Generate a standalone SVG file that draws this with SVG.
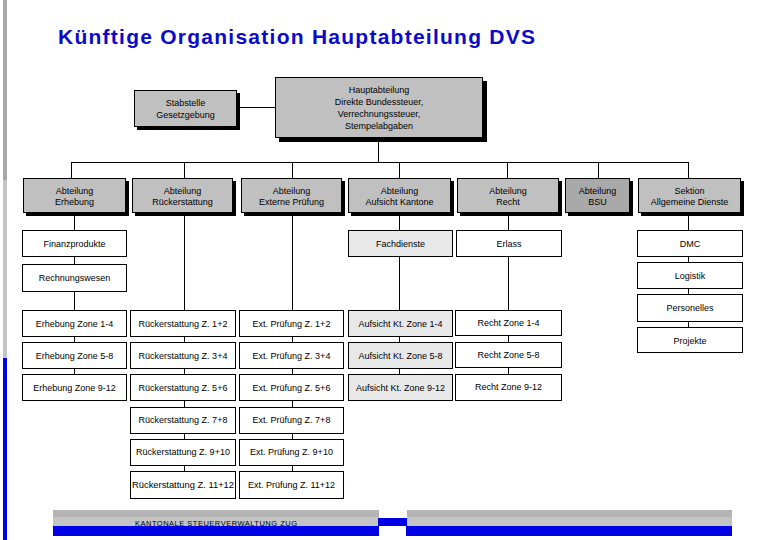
<svg xmlns="http://www.w3.org/2000/svg" width="766" height="540" viewBox="0 0 766 540">
<style>
text{font-family:"Liberation Sans",Arial,sans-serif;font-size:9px;fill:#000;text-anchor:middle}
.title{font-size:21px;font-weight:bold;fill:#0a0ac8;text-anchor:start}
.foot{font-size:7.5px;text-anchor:start}
.g{fill:#c0c0c0;stroke:#000;stroke-width:1}
.d{fill:#a9a9a9;stroke:#000;stroke-width:1}
.w{fill:#fff;stroke:#000;stroke-width:1}
.l{fill:#e8e8e8;stroke:#000;stroke-width:1}
.sh{fill:#000}
.c{stroke:#000;stroke-width:1;fill:none}
</style>
<rect x="0" y="0" width="766" height="540" fill="#fff"/>
<rect x="3" y="0" width="4" height="180" fill="#a8a8a8"/>
<rect x="3" y="180" width="4" height="178" fill="#c4c4c4"/>
<rect x="3" y="358" width="4" height="182" fill="#0000e6"/>
<text class="title" x="58" y="44" textLength="477" lengthAdjust="spacing">Künftige Organisation Hauptabteilung DVS</text>
<g id="connectors">
<path class="c" d="M237.5 107.5H275.5M378.5 138V162.5M71.5 162.5H688.5M71.5 162V178M184.5 162V178M292.5 162V178M399.5 162V178M507.5 162V178M598.5 162V178M688.5 162V178"/>
<path class="c" d="M74.5 214V374M184.5 214V471M292.5 214V471M399.5 214V374M508.5 214V374M688.5 214V327"/>
</g>
<g id="stabstelle"><rect class="sh" x="137" y="93" width="103" height="37"/><rect class="g" x="134.5" y="90.5" width="102" height="36"/><text x="185.5" y="106">Stabstelle</text><text x="185.5" y="118">Gesetzgebung</text></g>
<g id="haupt"><rect class="sh" x="279" y="81" width="208" height="61"/><rect class="g" x="275.5" y="77.5" width="207" height="60"/><text x="379" y="93">Hauptabteilung</text><text x="379" y="105">Direkte Bundessteuer,</text><text x="379" y="117">Verrechnungssteuer,</text><text x="379" y="129">Stempelabgaben</text></g>
<g id="abt-erhebung"><rect class="sh" x="26" y="181" width="103" height="35"/><rect class="g" x="23.5" y="178.5" width="102" height="34"/><text x="74.5" y="194">Abteilung</text><text x="74.5" y="205">Erhebung</text></g>
<g id="abt-rueck"><rect class="sh" x="135" y="181" width="101" height="35"/><rect class="g" x="132.5" y="178.5" width="100" height="34"/><text x="182.5" y="194">Abteilung</text><text x="182.5" y="205">Rückerstattung</text></g>
<g id="abt-ext"><rect class="sh" x="244" y="181" width="101" height="35"/><rect class="g" x="241.5" y="178.5" width="100" height="34"/><text x="291.5" y="194">Abteilung</text><text x="291.5" y="205">Externe Prüfung</text></g>
<g id="abt-aufsicht"><rect class="sh" x="351" y="181" width="103" height="35"/><rect class="g" x="348.5" y="178.5" width="102" height="34"/><text x="399.5" y="194">Abteilung</text><text x="399.5" y="205">Aufsicht Kantone</text></g>
<g id="abt-recht"><rect class="sh" x="460" y="181" width="102" height="35"/><rect class="g" x="457.5" y="178.5" width="101" height="34"/><text x="508" y="194">Abteilung</text><text x="508" y="205">Recht</text></g>
<g id="abt-bsu"><rect class="sh" x="568" y="181" width="65" height="35"/><rect class="d" x="565.5" y="178.5" width="64" height="34"/><text x="597.5" y="194">Abteilung</text><text x="597.5" y="205">BSU</text></g>
<g id="sektion"><rect class="sh" x="641" y="181" width="103" height="35"/><rect class="g" x="638.5" y="178.5" width="102" height="34"/><text x="689.5" y="194">Sektion</text><text x="689.5" y="205">Allgemeine Dienste</text></g>
<g id="finanz"><rect class="w" x="22.5" y="230.5" width="104" height="26"/><text x="74.5" y="247">Finanzprodukte</text></g>
<g id="rechnung"><rect class="w" x="22.5" y="264.5" width="104" height="27"/><text x="74.5" y="281">Rechnungswesen</text></g>
<g id="fachdienste"><rect class="l" x="348.5" y="230.5" width="104" height="26"/><text x="400.5" y="247">Fachdienste</text></g>
<g id="erlass"><rect class="w" x="456.5" y="230.5" width="105" height="26"/><text x="509" y="247">Erlass</text></g>
<g id="dmc"><rect class="w" x="637.5" y="230.5" width="105" height="26"/><text x="690" y="247">DMC</text></g>
<g id="logistik"><rect class="w" x="637.5" y="262.5" width="105" height="26"/><text x="690" y="279">Logistik</text></g>
<g id="personelles"><rect class="w" x="637.5" y="294.5" width="105" height="27"/><text x="690" y="311">Personelles</text></g>
<g id="projekte"><rect class="w" x="637.5" y="327.5" width="105" height="25"/><text x="690" y="344">Projekte</text></g>
<g id="erh1"><rect class="w" x="22.5" y="310.5" width="104" height="26"/><text x="74.5" y="327">Erhebung Zone 1-4</text></g>
<g id="erh2"><rect class="w" x="22.5" y="342.5" width="104" height="26"/><text x="74.5" y="359">Erhebung Zone 5-8</text></g>
<g id="erh3"><rect class="w" x="22.5" y="374.5" width="104" height="26"/><text x="74.5" y="391">Erhebung Zone 9-12</text></g>
<g id="rue1"><rect class="w" x="130.5" y="310.5" width="105" height="26"/><text x="183" y="327">Rückerstattung Z. 1+2</text></g>
<g id="rue2"><rect class="w" x="130.5" y="342.5" width="105" height="26"/><text x="183" y="359">Rückerstattung Z. 3+4</text></g>
<g id="rue3"><rect class="w" x="130.5" y="374.5" width="105" height="26"/><text x="183" y="391">Rückerstattung Z. 5+6</text></g>
<g id="rue4"><rect class="w" x="130.5" y="407.5" width="105" height="26"/><text x="183" y="423">Rückerstattung Z. 7+8</text></g>
<g id="rue5"><rect class="w" x="130.5" y="439.5" width="105" height="26"/><text x="183" y="455">Rückerstattung Z. 9+10</text></g>
<g id="rue6"><rect class="w" x="130.5" y="471.5" width="105" height="27"/><text x="183" y="488" textLength="102" lengthAdjust="spacingAndGlyphs">Rückerstattung Z. 11+12</text></g>
<g id="ext1"><rect class="w" x="239.5" y="310.5" width="104" height="26"/><text x="291.5" y="327">Ext. Prüfung Z. 1+2</text></g>
<g id="ext2"><rect class="w" x="239.5" y="342.5" width="104" height="26"/><text x="291.5" y="359">Ext. Prüfung Z. 3+4</text></g>
<g id="ext3"><rect class="w" x="239.5" y="374.5" width="104" height="26"/><text x="291.5" y="391">Ext. Prüfung Z. 5+6</text></g>
<g id="ext4"><rect class="w" x="239.5" y="407.5" width="104" height="26"/><text x="291.5" y="423">Ext. Prüfung Z. 7+8</text></g>
<g id="ext5"><rect class="w" x="239.5" y="439.5" width="104" height="26"/><text x="291.5" y="455">Ext. Prüfung Z. 9+10</text></g>
<g id="ext6"><rect class="w" x="239.5" y="471.5" width="104" height="27"/><text x="291.5" y="488">Ext. Prüfung Z. 11+12</text></g>
<g id="auf1"><rect class="l" x="348.5" y="310.5" width="104" height="26"/><text x="400.5" y="327">Aufsicht Kt. Zone 1-4</text></g>
<g id="auf2"><rect class="l" x="348.5" y="342.5" width="104" height="26"/><text x="400.5" y="359">Aufsicht Kt. Zone 5-8</text></g>
<g id="auf3"><rect class="l" x="348.5" y="374.5" width="104" height="26"/><text x="400.5" y="391">Aufsicht Kt. Zone 9-12</text></g>
<g id="rec1"><rect class="w" x="455.5" y="310.5" width="106" height="25"/><text x="508.5" y="326">Recht Zone 1-4</text></g>
<g id="rec2"><rect class="w" x="455.5" y="342.5" width="106" height="25"/><text x="508.5" y="358">Recht Zone 5-8</text></g>
<g id="rec3"><rect class="w" x="455.5" y="374.5" width="106" height="26"/><text x="508.5" y="390">Recht Zone 9-12</text></g>
<g id="footer">
<rect x="53" y="510" width="326" height="7" fill="#b4b4b4"/>
<rect x="53" y="517" width="326" height="9" fill="#c4c4c4"/>
<rect x="53" y="526" width="326" height="10" fill="#0000e6"/>
<rect x="378" y="518" width="30" height="8" fill="#0000e6"/>
<rect x="407" y="510" width="325" height="7" fill="#b4b4b4"/>
<rect x="407" y="517" width="325" height="9" fill="#c4c4c4"/>
<rect x="406" y="526" width="326" height="10" fill="#0000e6"/>
<text class="foot" x="135" y="526" textLength="162" lengthAdjust="spacing">KANTONALE STEUERVERWALTUNG ZUG</text>
</g>
</svg>
